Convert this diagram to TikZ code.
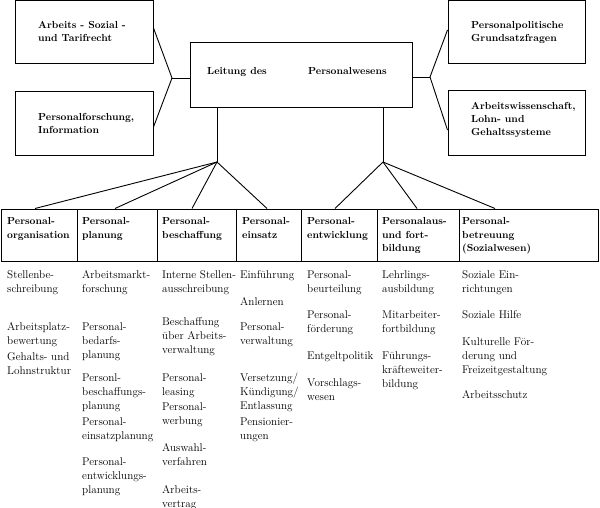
\documentclass[tikz,border=0pt]{standalone}
\usepackage{fontspec}
\newcommand{\myrows}[1]{\begin{tabular}[t]{@{}l@{}}#1\end{tabular}}
\begin{document}
\begin{tikzpicture}[x=1pt,y=-1pt,
  box/.style={draw, line width=1pt, rectangle, inner sep=0pt},
  ln/.style={line width=0.9pt},
  tb/.style={anchor=base west, inner sep=0pt, font=\fontsize{10.2}{13}\selectfont\bfseries},
  hb/.style={anchor=base west, inner sep=0pt, font=\fontsize{10.2}{13.5}\selectfont\bfseries},
  it/.style={anchor=base west, inner sep=0pt, font=\fontsize{11.2}{14}\selectfont}]
\useasboundingbox (0,0) rectangle (600,508);
% top boxes
\node[box, minimum width=138pt, minimum height=63pt] (b1) at (84,32.5) {};
\node[box, minimum width=138pt, minimum height=64pt] (b2) at (84,124) {};
\node[box, minimum width=222pt, minimum height=65pt] (c) at (301,75.5) {};
\node[box, minimum width=137pt, minimum height=63pt] (r1) at (516.5,32.5) {};
\node[box, minimum width=137pt, minimum height=65pt] (r2) at (516.5,123.5) {};
\node[tb] (tb1) at (38,29) {\myrows{Arbeits - Sozial -\\und Tarifrecht}};
\node[tb] (tb2) at (38,121) {\myrows{Personalforschung,\\Information}};
\node[tb] (tc1) at (207,75) {Leitung des};
\node[tb] (tc2) at (308,75) {Personalwesens};
\node[tb] (tr1) at (471,29) {\myrows{Personalpolitische\\Grundsatzfragen}};
\node[tb] (tr2) at (471,110) {\myrows{Arbeitswissenschaft,\\Lohn- und\\Gehaltssysteme}};
% junctions
\coordinate (jL) at (172,78);
\coordinate (jR) at (430,77);
\coordinate (jB1) at (217,162);
\coordinate (jB2) at (383,162);
\draw[ln] ([yshift=4.5pt]b1.east) -- (jL) -- ([yshift=-3pt]b2.east);
\draw[ln] (jL) -- ([yshift=-2.5pt]c.west);
\draw[ln] ([yshift=2.5pt]r1.west) -- (jR) -- ([yshift=-6.5pt]r2.west);
\draw[ln] (jR) -- ([yshift=-1.5pt]c.east);
\draw[ln] ([xshift=-84pt]c.south) -- (jB1);
\draw[ln] ([xshift=82pt]c.south) -- (jB2);
% bottom header boxes
\node[box, minimum width=76pt, minimum height=52pt] (h1) at (39,235) {};
\node[box, minimum width=80pt, minimum height=52pt] (h2) at (117,235) {};
\node[box, minimum width=79pt, minimum height=52pt] (h3) at (196.5,235) {};
\node[box, minimum width=65pt, minimum height=52pt] (h4) at (268.5,235) {};
\node[box, minimum width=76pt, minimum height=52pt] (h5) at (339,235) {};
\node[box, minimum width=82pt, minimum height=52pt] (h6) at (418,235) {};
\node[box, minimum width=139pt, minimum height=52pt] (h7) at (528.5,235) {};
\draw[ln] (jB1) -- ([xshift=-4pt]h1.north);
\draw[ln] (jB1) -- ([xshift=-2pt]h2.north);
\draw[ln] (jB1) -- ([xshift=-4.5pt]h3.north);
\draw[ln] (jB1) -- ([xshift=-1.5pt]h4.north);
\draw[ln] (jB2) -- ([xshift=-4pt]h5.north);
\draw[ln] (jB2) -- ([xshift=-1pt]h6.north);
\draw[ln] (jB2) -- ([xshift=-33.5pt]h7.north);
\node[hb] (th1) at (7,225) {\myrows{Personal-\\organisation}};
\node[hb] (th2) at (82,225) {\myrows{Personal-\\planung}};
\node[hb] (th3) at (162,225) {\myrows{Personal-\\beschaffung}};
\node[hb] (th4) at (242,225) {\myrows{Personal-\\einsatz}};
\node[hb] (th5) at (307,225) {\myrows{Personal-\\entwicklung}};
\node[hb] (th6) at (382,225) {\myrows{Personalaus-\\und fort-\\bildung}};
\node[hb] (th7) at (462,225) {\myrows{Personal-\\betreuung\\(Sozialwesen)}};
% column 1
\node[it] (a1) at (7,278) {\myrows{Stellenbe-\\schreibung}};
\node[it] (a2) at (7,330) {\myrows{Arbeitsplatz-\\bewertung}};
\node[it] (a3) at (7,360) {\myrows{Gehalts- und\\Lohnstruktur}};
% column 2
\node[it] (p1) at (82,278) {\myrows{Arbeitsmarkt-\\forschung}};
\node[it] (p2) at (82,330) {\myrows{Personal-\\bedarfs-\\planung}};
\node[it] (p3) at (82,381) {\myrows{Personl-\\beschaffungs-\\planung}};
\node[it] (p4) at (82,425) {\myrows{Personal-\\einsatzplanung}};
\node[it] (p5) at (82,465) {\myrows{Personal-\\entwicklungs-\\planung}};
% column 3
\node[it] (s1) at (162,278) {\myrows{Interne Stellen-\\ausschreibung}};
\node[it] (s2) at (162,325) {\myrows{Beschaffung\\über Arbeits-\\verwaltung}};
\node[it] (s3) at (162,381) {\myrows{Personal-\\leasing}};
\node[it] (s4) at (162,410) {\myrows{Personal-\\werbung}};
\node[it] (s5) at (162,451) {\myrows{Auswahl-\\verfahren}};
\node[it] (s6) at (162,493) {\myrows{Arbeits-\\vertrag}};
% column 4
\node[it] (e1) at (240,278) {Einführung};
\node[it] (e2) at (240,305) {Anlernen};
\node[it] (e3) at (240,330) {\myrows{Personal-\\verwaltung}};
\node[it] (e4) at (240,381) {\myrows{Versetzung/\\Kündigung/\\Entlassung}};
\node[it] (e5) at (240,425) {\myrows{Pensionier-\\ungen}};
% column 5
\node[it] (w1) at (307,278) {\myrows{Personal-\\beurteilung}};
\node[it] (w2) at (307,318) {\myrows{Personal-\\förderung}};
\node[it] (w3) at (307,359) {Entgeltpolitik};
\node[it] (w4) at (307,386) {\myrows{Vorschlags-\\wesen}};
% column 6
\node[it] (f1) at (382,278) {\myrows{Lehrlings-\\ausbildung}};
\node[it] (f2) at (382,318) {\myrows{Mitarbeiter-\\fortbildung}};
\node[it] (f3) at (382,359) {\myrows{Führungs-\\kräfteweiter-\\bildung}};
% column 7
\node[it] (z1) at (462,278) {\myrows{Soziale Ein-\\richtungen}};
\node[it] (z2) at (462,318) {Soziale Hilfe};
\node[it] (z3) at (462,345) {\myrows{Kulturelle För-\\derung und\\Freizeitgestaltung}};
\node[it] (z4) at (462,398) {Arbeitsschutz};
\end{tikzpicture}
\end{document}
